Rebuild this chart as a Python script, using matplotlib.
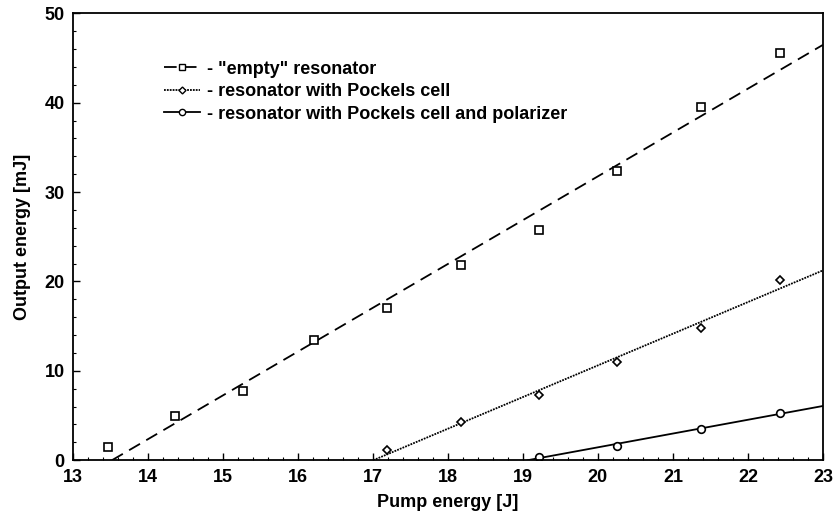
import numpy as np
import matplotlib.pyplot as plt
from matplotlib.ticker import AutoMinorLocator

plt.rcParams['font.family'] = ['Liberation Sans', 'DejaVu Sans']
plt.rcParams['font.weight'] = 'bold'
plt.rcParams['axes.labelweight'] = 'bold'

# pump energy [J] and output energy [mJ] for each configuration
pump_empty = [13.47, 14.36, 15.27, 16.22, 17.19, 18.18, 19.21, 20.25, 21.37, 22.43]
out_empty = [1.5, 4.9, 7.7, 13.4, 17.0, 21.8, 25.7, 32.4, 39.5, 45.6]

pump_pockels = [17.19, 18.18, 19.21, 20.25, 21.37, 22.43]
out_pockels = [1.2, 4.3, 7.3, 11.0, 14.8, 20.2]

pump_polar = [19.21, 20.25, 21.37, 22.43]
out_polar = [0.4, 1.6, 3.5, 5.3]

labels = ['- "empty" resonator',
          '- resonator with Pockels cell',
          '- resonator with Pockels cell and polarizer']

fig = plt.figure(figsize=(8.38, 5.29), dpi=100)
ax = fig.add_axes([0.087, 0.130, 0.895, 0.845])


def fit_line(x, y):
    k, b = np.polyfit(x, y, 1)
    x0 = -b / k
    xs = np.array([x0, 23.0])
    return xs, k * xs + b


series = [
    (pump_empty, out_empty, 's', (0, (7, 4)), 6),
    (pump_pockels, out_pockels, 'D', (0, (1, 0.6)), 4.5),
    (pump_polar, out_polar, 'o', '-', 5.5),
]

for (x, y, mk, ls, ms), lab in zip(series, labels):
    xs, ys = fit_line(x, y)
    ax.plot(xs, ys, color='black', lw=1.3, linestyle=ls)
    ax.plot(x, y, linestyle='none', marker=mk, ms=ms, mfc='white',
            mec='black', mew=1.2)
    ax.plot([], [], color='black', lw=1.3, linestyle=ls, marker=mk,
            ms=ms - 1, mfc='white', mec='black', label=lab)

ax.set_xlim(13, 23)
ax.set_ylim(0, 50)
ax.set_xticks(range(13, 24))
ax.set_yticks(range(0, 51, 10))
ax.xaxis.set_minor_locator(AutoMinorLocator(5))
ax.yaxis.set_minor_locator(AutoMinorLocator(5))
ax.tick_params(which='both', direction='in', top=False, right=False)
ax.tick_params(which='major', length=5, width=1, labelsize=13, pad=6)
ax.tick_params(which='minor', length=2.5, width=0.8)
for s in ax.spines.values():
    s.set_linewidth(1.3)

ax.set_xlabel('Pump energy [J]', fontsize=13, labelpad=6)
ax.set_ylabel('Output energy [mJ]', fontsize=13, labelpad=10)

ax.legend(loc='upper left', bbox_to_anchor=(0.1, 0.93), frameon=False,
          fontsize=13, handlelength=2.0, handletextpad=0.4,
          labelspacing=0.3)

fig.savefig('out.png', dpi=100)
